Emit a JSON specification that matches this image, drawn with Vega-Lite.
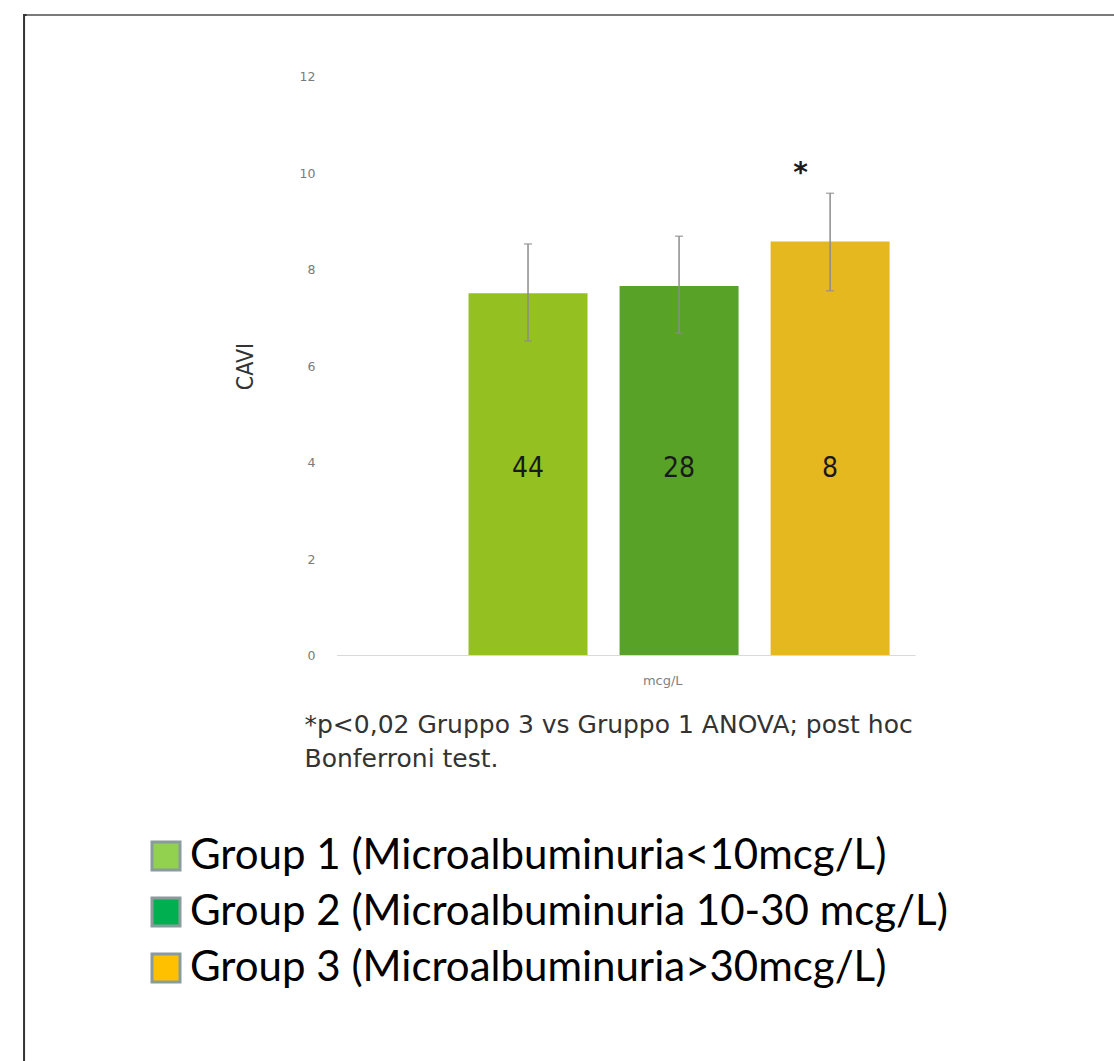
{
  "$schema": "https://vega.github.io/schema/vega-lite/v6.json",
  "width": 782,
  "height": 641,
  "autosize": {"type": "none"},
  "padding": {"left": 332, "top": 15, "right": 0, "bottom": 405},
  "background": "white",
  "config": {"view": {"stroke": null}},
  "datasets": {
    "groups": [
      {"group": "Group 1 (Microalbuminuria<10mcg/L)", "pos": 1, "cavi": 7.51, "lo": 6.52, "hi": 8.53, "n": "44"},
      {"group": "Group 2 (Microalbuminuria 10-30 mcg/L)", "pos": 2, "cavi": 7.66, "lo": 6.68, "hi": 8.69, "n": "28"},
      {"group": "Group 3 (Microalbuminuria>30mcg/L)", "pos": 3, "cavi": 8.58, "lo": 7.56, "hi": 9.58, "n": "8"}
    ],
    "axislabel": [{"label": "mcg/L"}],
    "star": [{"label": "*"}],
    "note": [{"label": ["*p<0,02 Gruppo 3 vs Gruppo 1 ANOVA; post hoc", "Bonferroni test."]}]
  },
  "layer": [
    {
      "data": {"name": "groups"},
      "mark": {"type": "bar", "width": 119},
      "encoding": {
        "x": {"field": "pos", "type": "quantitative", "scale": {"domain": [-0.2647, 4.8464], "nice": false, "zero": false}, "axis": null},
        "y": {
          "field": "cavi", "type": "quantitative",
          "scale": {"domain": [-0.0104, 13.275], "nice": false, "zero": false},
          "axis": {
            "values": [0, 2, 4, 6, 8, 10, 12],
            "domain": false, "ticks": false, "grid": false,
            "labelPadding": 17,
            "labelFont": "DejaVu Sans", "labelFontSize": 12.5, "labelColor": "#7a7a7a",
            "title": "CAVI", "titleFont": "DejaVu Sans Condensed", "titleFontSize": 23,
            "titleFontWeight": "normal", "titleColor": "#333333",
            "titleX": -75, "titleY": 351
          }
        },
        "y2": {"datum": 0},
        "fill": {"field": "group", "type": "nominal", "legend": null,
          "scale": {"range": ["#94C121", "#57A227", "#E6B820"]}}
      }
    },
    {
      "data": {"name": "axislabel"},
      "mark": {"type": "rect", "fill": null, "fillOpacity": 0, "stroke": "#333333", "strokeWidth": 2},
      "encoding": {
        "x": {"datum": -2.3366, "type": "quantitative"},
        "x2": {"datum": 5.3},
        "y": {"datum": 13.275, "type": "quantitative"},
        "y2": {"datum": -9.5}
      }
    },
    {
      "data": {"name": "axislabel"},
      "mark": {"type": "rule", "color": "#7a7a7a", "strokeWidth": 2},
      "encoding": {
        "x": {"datum": -2.32, "type": "quantitative"},
        "x2": {"datum": 5.3},
        "y": {"datum": 13.275, "type": "quantitative"}
      }
    },
    {
      "data": {"name": "axislabel"},
      "mark": {"type": "rule", "color": "#d9d9d9", "strokeWidth": 1},
      "encoding": {
        "x": {"datum": -0.2647, "type": "quantitative"},
        "x2": {"datum": 3.565},
        "y": {"datum": 0, "type": "quantitative"}
      }
    },
    {
      "data": {"name": "groups"},
      "mark": {"type": "rule", "color": "#8c8c8c", "strokeWidth": 1.5},
      "encoding": {
        "x": {"field": "pos", "type": "quantitative"},
        "y": {"field": "lo", "type": "quantitative"},
        "y2": {"field": "hi"}
      }
    },
    {
      "data": {"name": "groups"},
      "mark": {"type": "tick", "orient": "horizontal", "color": "#8c8c8c", "size": 8, "thickness": 1.5},
      "encoding": {
        "x": {"field": "pos", "type": "quantitative"},
        "y": {"field": "lo", "type": "quantitative"}
      }
    },
    {
      "data": {"name": "groups"},
      "mark": {"type": "tick", "orient": "horizontal", "color": "#8c8c8c", "size": 8, "thickness": 1.5},
      "encoding": {
        "x": {"field": "pos", "type": "quantitative"},
        "y": {"field": "hi", "type": "quantitative"}
      }
    },
    {
      "data": {"name": "groups"},
      "mark": {"type": "text", "font": "DejaVu Sans Condensed", "fontSize": 28, "color": "#1a1a1a", "baseline": "middle"},
      "encoding": {
        "x": {"field": "pos", "type": "quantitative"},
        "y": {"datum": 3.865, "type": "quantitative"},
        "text": {"field": "n"}
      }
    },
    {
      "data": {"name": "star"},
      "mark": {"type": "text", "font": "DejaVu Sans", "fontWeight": "bold", "fontSize": 28, "color": "#1a1a1a", "baseline": "alphabetic"},
      "encoding": {
        "x": {"datum": 2.805, "type": "quantitative"},
        "y": {"datum": 9.82, "type": "quantitative"},
        "text": {"field": "label"}
      }
    },
    {
      "data": {"name": "axislabel"},
      "mark": {"type": "text", "font": "DejaVu Sans", "fontSize": 13, "color": "#7f7f7f", "baseline": "middle"},
      "encoding": {
        "x": {"datum": 1.892, "type": "quantitative"},
        "y": {"datum": -0.528, "type": "quantitative"},
        "text": {"field": "label"}
      }
    },
    {
      "data": {"name": "note"},
      "mark": {"type": "text", "font": "DejaVu Sans", "fontSize": 25, "color": "#333333", "align": "left", "baseline": "alphabetic", "lineHeight": 34},
      "encoding": {
        "x": {"datum": -0.48, "type": "quantitative"},
        "y": {"datum": -1.606, "type": "quantitative"},
        "text": {"field": "label"}
      }
    },
    {
      "data": {"name": "groups"},
      "mark": {"type": "point", "shape": "square", "filled": true, "opacity": 0},
      "encoding": {
        "x": {"field": "pos", "type": "quantitative"},
        "y": {"field": "cavi", "type": "quantitative"},
        "color": {
          "field": "group", "type": "nominal",
          "scale": {"range": ["#92D050", "#00B050", "#FFC000"]},
          "legend": {
            "orient": "none", "legendX": -187, "legendY": 820, "title": null,
            "symbolType": "square", "symbolSize": 784,
            "symbolStrokeColor": "#8A9B9B", "symbolStrokeWidth": 3, "symbolOpacity": 1,
            "labelFont": "Lato", "labelFontSize": 42, "labelColor": "#000000",
            "labelLimit": 0, "labelOffset": 3, "rowPadding": 14, "padding": 0,
            "encode": {"symbols": {"update": {"stroke": {"value": "#8A9B9B"}, "strokeWidth": {"value": 3}, "opacity": {"value": 1}}}}
          }
        }
      }
    }
  ]
}
